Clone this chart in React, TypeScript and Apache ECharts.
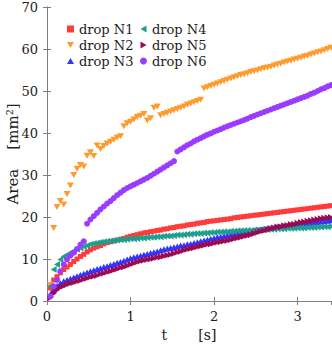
import React, { useEffect, useRef } from "react";
import * as echarts from "echarts";

const T = [0.04,0.08,0.12,0.16,0.20,0.24,0.28,0.32,0.36,0.40,0.44,0.48,0.52,0.56,0.60,0.64,0.68,0.72,0.76,0.80,
0.84,0.88,0.92,0.96,1.00,1.04,1.08,1.12,1.16,1.20,1.24,1.28,1.32,1.36,1.40,1.44,1.48,1.52,1.56,1.60,
1.64,1.68,1.72,1.76,1.80,1.84,1.88,1.92,1.96,2.00,2.04,2.08,2.12,2.16,2.20,2.24,2.28,2.32,2.36,2.40,
2.44,2.48,2.52,2.56,2.60,2.64,2.68,2.72,2.76,2.80,2.84,2.88,2.92,2.96,3.00,3.04,3.08,3.12,3.16,3.20,
3.24,3.28,3.32,3.36,3.40];

const N1 = [3.1,5.0,5.8,6.7,7.5,8.1,8.7,9.4,10.0,10.6,11.1,11.7,12.2,12.6,12.9,13.2,13.6,13.9,14.1,14.3,
14.5,14.7,14.9,15.2,15.4,15.6,15.8,16.0,16.2,16.3,16.5,16.6,16.8,16.9,17.1,17.2,17.4,17.5,17.7,17.8,
17.9,18.1,18.2,18.3,18.5,18.6,18.7,18.9,19.0,19.1,19.2,19.3,19.4,19.5,19.6,19.8,19.9,20.0,20.1,20.2,
20.3,20.4,20.5,20.6,20.7,20.8,20.9,21.0,21.1,21.2,21.3,21.4,21.5,21.6,21.7,21.8,21.9,22.0,22.1,22.2,
22.3,22.4,22.5,22.6,22.7];

const N2 = [3.8,17.4,22.4,23.8,23.0,25.5,27.5,30.0,31.5,32.4,32.0,34.6,35.4,34.5,37.0,36.2,36.9,37.5,37.9,38.4,
38.9,39.2,41.6,42.3,42.7,43.2,43.8,44.1,44.5,43.0,43.5,46.0,46.3,44.2,44.5,44.8,45.1,45.4,45.7,46.0,
46.3,46.7,47.0,47.3,47.6,47.9,50.6,50.9,51.2,51.5,51.8,52.1,52.4,52.7,53.0,53.3,53.5,53.8,54.0,54.2,
54.5,54.7,54.9,55.2,55.4,55.6,55.8,56.1,56.3,56.5,56.8,57.0,57.2,57.5,57.7,57.9,58.2,58.4,58.7,58.9,
59.2,59.4,59.7,60.0,60.3];

const N3 = [1.6,2.7,3.6,4.2,4.7,5.0,5.3,5.6,5.9,6.2,6.5,6.8,7.1,7.3,7.6,7.8,8.1,8.3,8.6,8.8,
9.1,9.3,9.6,9.9,10.2,10.4,10.6,10.8,11.0,11.2,11.4,11.6,11.8,12.1,12.3,12.5,12.6,12.8,13.0,13.2,
13.3,13.5,13.6,13.8,14.0,14.2,14.4,14.6,14.8,15.0,15.2,15.3,15.5,15.6,15.8,15.9,16.1,16.2,16.4,16.5,
16.6,16.8,16.9,17.0,17.1,17.3,17.4,17.5,17.6,17.7,17.8,17.9,18.0,18.1,18.2,18.3,18.4,18.5,18.6,18.7,
18.8,18.9,19.0,19.1,19.2];

const N4 = [3.5,7.5,8.7,9.9,10.6,11.0,11.5,11.9,12.3,12.6,13.0,13.2,13.5,13.7,13.8,14.0,14.1,14.2,14.3,14.4,
14.5,14.6,14.6,14.7,14.8,14.8,14.9,15.0,15.0,15.1,15.2,15.2,15.3,15.3,15.4,15.5,15.5,15.6,15.7,15.7,
15.8,15.9,15.9,16.0,16.1,16.1,16.2,16.2,16.3,16.3,16.4,16.4,16.5,16.5,16.6,16.6,16.7,16.7,16.8,16.8,
16.8,16.9,16.9,17.0,17.0,17.0,17.1,17.1,17.2,17.2,17.2,17.3,17.3,17.3,17.4,17.4,17.4,17.5,17.5,17.5,
17.6,17.6,17.7,17.7,17.8];

const N5 = [0.8,1.8,2.6,3.2,3.6,3.9,4.2,4.4,4.7,4.9,5.2,5.4,5.7,5.9,6.1,6.4,6.6,6.9,7.1,7.4,
7.6,7.9,8.1,8.4,8.7,9.0,9.3,9.5,9.7,9.9,10.0,10.2,10.4,10.5,10.7,10.9,11.1,11.3,11.6,11.8,
12.1,12.3,12.5,12.7,12.9,13.1,13.3,13.5,13.6,13.8,14.0,14.1,14.3,14.4,14.6,14.8,15.0,15.2,15.4,15.6,
15.8,16.1,16.3,16.6,16.8,17.0,17.2,17.4,17.6,17.7,17.9,18.0,18.2,18.3,18.5,18.7,18.8,19.0,19.1,19.3,
19.4,19.6,19.7,19.8,19.9];

const N6 = [1.1,3.5,5.0,7.1,8.7,9.9,10.8,11.5,12.4,13.4,14.2,18.4,19.4,20.2,21.0,21.8,22.5,23.2,23.8,24.5,
25.2,25.8,26.4,26.9,27.3,27.7,28.1,28.5,28.9,29.3,29.8,30.3,30.8,31.3,31.8,32.3,32.8,33.3,35.6,36.1,
36.6,37.1,37.5,38.0,38.4,38.8,39.2,39.6,39.9,40.3,40.6,40.9,41.3,41.6,41.9,42.2,42.5,42.8,43.1,43.4,
43.8,44.1,44.4,44.7,45.0,45.3,45.6,45.9,46.2,46.5,46.8,47.1,47.4,47.7,48.0,48.3,48.6,48.9,49.3,49.6,
50.0,50.4,50.7,51.1,51.4];

const X_TICKS = [0, 1, 2, 3];

const NAMES = ["drop N1", "drop N2", "drop N3", "drop N4", "drop N5", "drop N6"];
const VALUES = [N1, N2, N3, N4, N5, N6];
const COLORS = ["#ff3b3b", "#ff9a2e", "#3434ff", "#1f9e8f", "#9a0a52", "#9a3cff"];
const SYMBOLS = [
  "rect",
  "path://M0,0L2,0L1,1.732Z",
  "path://M1,0L2,1.732L0,1.732Z",
  "path://M0,1L1.732,0L1.732,2Z",
  "path://M0,0L1.732,1L0,2Z",
  "circle",
];
const SIZES: (number | number[])[] = [5, [7, 6], [7, 6], [6, 7], [6, 7], 6];

const FONT = "DejaVu Serif";

export default function App() {
  const ref = useRef<HTMLDivElement>(null);
  useEffect(() => {
    const chart = echarts.init(ref.current!, null, { renderer: "svg" });
    const axisLine = { show: true, lineStyle: { color: "#7f7f7f", width: 1 } };
    const tickStyle = { show: true, inside: true, length: 4, lineStyle: { color: "#7f7f7f" } };
    const series = NAMES.map((name, i) => ({
      name,
      type: "scatter",
      data: T.map((t, k) => [t, VALUES[i][k]]),
      symbol: SYMBOLS[i],
      symbolSize: SIZES[i],
      itemStyle: { color: COLORS[i], opacity: 1 },
      xAxisIndex: 0,
      yAxisIndex: 0,
    }));
    const legendCommon = {
      orient: "vertical",
      top: 17,
      itemGap: 2,
      itemWidth: 7,
      itemHeight: 7,
      textStyle: { fontFamily: FONT, fontSize: 13, color: "#222", lineHeight: 14 },
    };
    const xLabel = {
      fontFamily: FONT,
      fontSize: 13,
      color: "#222",
      margin: 9,
      formatter: (v: number) => (X_TICKS.includes(v) ? String(v) : ""),
    };
    chart.setOption({
      animation: false,
      backgroundColor: "#fff",
      textStyle: { fontFamily: FONT },
      grid: { left: 47, right: 1, top: 7, bottom: 43, containLabel: false, outerBoundsMode: "none" },
      legend: [
        { ...legendCommon, left: 62, data: NAMES.slice(0, 3) },
        { ...legendCommon, left: 135, data: NAMES.slice(3, 6) },
      ],
      xAxis: [
        {
          type: "value",
          min: 0,
          max: 3.4,
          interval: 1,
          position: "bottom",
          name: "t       [s]",
          nameLocation: "middle",
          nameGap: 27,
          nameMoveOverlap: false,
          nameTextStyle: { fontFamily: FONT, fontSize: 14, color: "#222" },
          axisLine,
          axisTick: tickStyle,
          splitLine: { show: false },
          axisLabel: { ...xLabel, showMaxLabel: false },
        },
        {
          type: "value",
          min: 0,
          max: 3.4,
          interval: 1,
          position: "top",
          axisLine,
          axisTick: tickStyle,
          splitLine: { show: false },
          axisLabel: { show: false },
        },
      ],
      yAxis: [
        {
          type: "value",
          min: 0,
          max: 70,
          interval: 10,
          position: "left",
          name: "Area    [mm²]",
          nameLocation: "middle",
          nameGap: 27,
          nameMoveOverlap: false,
          nameTextStyle: { fontFamily: FONT, fontSize: 15, color: "#222" },
          axisLine,
          axisTick: tickStyle,
          splitLine: { show: false },
          axisLabel: { fontFamily: FONT, fontSize: 13, color: "#222", margin: 9 },
        },
        {
          type: "value",
          min: 0,
          max: 70,
          interval: 10,
          position: "right",
          axisLine,
          axisTick: tickStyle,
          splitLine: { show: false },
          axisLabel: { show: false },
        },
      ],
      series,
    });
    return () => chart.dispose();
  }, []);
  return <div ref={ref} style={{ width: 332, height: 344, position: "fixed", left: 0, top: 0 }} />;
}
